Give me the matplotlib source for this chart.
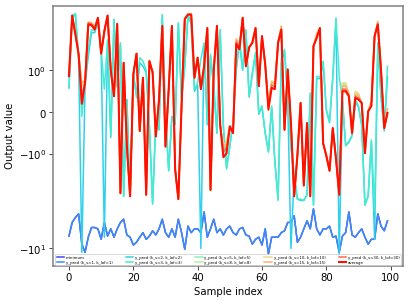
import numpy as np
import matplotlib
matplotlib.use("Agg")
import matplotlib.pyplot as plt

# read values (approximate)
average = [0.86, 3.8, 2.4, 1.48, 0.2, 0.7, 3.07, 3.0, 2.7, 3.6,
           1.5, 2.6, 3.8, 1.0, 0.38, 3.1, -2.6, 1.2, -0.8, -2.8,
           0.9, 1.5, -0.45, 0.82, -2.7, 1.25, 0.95, -0.58, 0.3, 2.95,
           -0.82, 0.55, 2.95, -1.44, -3.0, 0.15, 3.5, 3.9, 3.9, 0.82,
           1.36, 0.55, 1.1, 2.8, -2.4, 1.0, 2.95, -0.3, -1.08, -0.98,
           -0.34, -0.5, 1.9, 1.67, 3.6, 1.1, 1.75, 1.96, 2.8, 0.62,
           2.3, 1.15, 0.06, 0.58, 0.55, 1.96, 2.7, -0.42, 1.02, -0.26,
           -2.8, -1.04, 0.22, -2.15, -0.26, -2.8, 1.8, 2.2, 2.8, -0.74,
           -1.04, -1.5, -0.38, -1.12, -2.7, 0.5, 0.5, 0.38, -0.5, 0.34,
           0.3, 0.22, -0.98, 0.02, 0.15, 2.3, 3.07, 1.0, -0.38, -0.02]

y_k1 = [-7.4, -5.3, -4.7, -4.3, -9.0, -11.0, -7.6, -6.0, -6.0, -6.2,
        -8.0, -5.3, -7.4, -6.2, -7.6, -6.2, -5.3, -4.9, -7.2, -7.6,
        -9.2, -8.6, -7.6, -6.8, -8.0, -7.4, -6.5, -7.2, -6.2, -4.9,
        -6.8, -7.6, -6.2, -7.6, -4.9, -6.8, -10.2, -5.8, -6.8, -6.2,
        -6.2, -6.8, -4.1, -7.6, -6.2, -4.9, -6.8, -6.2, -7.2, -6.2,
        -5.8, -6.8, -7.2, -6.2, -6.0, -7.2, -7.4, -9.0, -8.0, -7.6,
        -9.2, -6.2, -11.5, -7.6, -7.6, -7.6, -6.8, -6.5, -5.3, -5.3,
        -4.5, -8.6, -7.6, -6.2, -5.1, -6.2, -3.8, -6.2, -7.2, -6.2,
        -6.2, -5.8, -7.6, -7.4, -11.0, -7.4, -6.8, -4.1, -7.2, -7.6,
        -6.8, -6.2, -7.6, -9.0, -8.0, -8.0, -4.3, -5.8, -6.5, -5.1]

y_k3 = [0.58, 3.8, 4.0, 1.4, -0.1, 0.7, 1.67, 2.7, 2.6, 3.3,
        1.67, 0.55, 2.1, -0.55, 3.5, 0.62, 1.96, -2.8, 0.3, -2.8,
        0.95, 0.34, 1.36, 1.25, 1.0, -0.34, -3.4, -0.18, -0.42, 3.9,
        -0.02, -1.5, -0.1, -0.26, 3.2, 0.3, 1.1, 3.9, 3.2, 0.55,
        0.7, 1.3, 1.96, -0.26, 1.48, 0.62, -0.5, 2.7, -0.34, -1.44,
        -0.82, -0.22, 1.1, 2.1, 1.02, 2.7, 0.38, 0.95, 1.55, -0.02,
        0.15, -0.5, -0.94, 0.15, -1.2, -3.1, 1.3, 1.67, 0.3, -0.88,
        -1.6, -3.0, -3.0, -3.1, -2.7, 0.46, -3.5, 0.86, 0.82, 1.25,
        0.06, -0.22, 0.86, 3.6, 0.86, 0.3, -0.78, -0.7, -0.55, 0.3,
        0.15, -0.3, -3.5, -2.8, -0.66, -4.0, 1.96, 0.38, -0.42, 1.1]

y_k2 = [0.58, 3.6, 3.9, 1.3, -11.0, 0.65, 1.4, 2.5, 2.5, 3.2,
        1.6, -7.6, 2.0, -0.6, 3.4, 0.6, 1.9, -2.8, 0.3, -2.8,
        0.9, 0.4, 1.2, 1.1, 0.95, -0.34, -3.3, -0.2, -0.42, 3.8,
        -0.05, -1.5, -0.1, -0.3, 3.1, 0.3, 1.1, 3.8, 3.1, 0.5,
        0.65, -10.0, 1.9, -0.3, 1.4, 0.6, -0.5, 2.6, -0.36, -1.4,
        -0.8, -0.25, 1.0, 2.0, 1.0, 2.6, 0.36, 0.9, 1.5, -0.05,
        0.12, -0.5, -0.95, 0.12, -1.2, -3.0, 1.2, 1.6, 0.28, -10.0,
        -1.7, -3.0, -3.1, -3.1, -2.7, 0.42, -3.4, 0.8, 0.8, 1.2,
        0.05, -0.25, 0.8, 3.4, -12.0, 0.28, -0.8, -0.72, -0.56, 0.25,
        0.12, -0.32, -3.4, -2.8, -0.7, -8.0, 1.9, 0.36, -0.45, 0.85]

# y_pred for larger k follow the average closely; overrides where they show
k_labels = ["y_pred (k_s=1, k_lof=1)", "y_pred (k_s=2, k_lof=2)",
            "y_pred (k_s=3, k_lof=3)", "y_pred (k_s=5, k_lof=5)",
            "y_pred (k_s=8, k_lof=8)", "y_pred (k_s=10, k_lof=10)",
            "y_pred (k_s=15, k_lof=15)", "y_pred (k_s=30, k_lof=30)"]

diff_k5 = {4: 0.65, 5: 0.72, 6: 3.1, 7: 3.1, 8: 2.8, 48: -0.85, 49: -0.75,
           52: 2.0, 53: 1.75, 62: 0.18, 63: 0.7, 64: 0.65, 85: 0.65,
           86: 0.65, 87: 0.42, 89: 0.45, 90: 0.4, 94: 0.25}
diff_k8 = {4: 0.6, 5: 0.75, 6: 3.15, 7: 3.15, 8: 2.85, 48: -0.82, 49: -0.72,
           52: 2.05, 53: 1.78, 62: 0.2, 63: 0.72, 64: 0.68, 85: 0.68,
           86: 0.68, 87: 0.44, 89: 0.48, 90: 0.42, 94: 0.28}
diff_k10 = {4: 0.62, 5: 0.78, 6: 3.2, 7: 3.2, 8: 2.9, 48: -0.8, 49: -0.7,
            52: 2.1, 53: 1.8, 62: 0.22, 63: 0.75, 64: 0.7, 66: 2.9,
            77: 2.4, 85: 0.7, 86: 0.7, 87: 0.45, 89: 0.5, 90: 0.45,
            94: 0.3, 96: 3.2, 99: 0.06}
diff_k15 = {4: 0.7, 5: 0.75, 6: 3.25, 7: 3.2, 8: 2.9, 48: -0.85, 49: -0.75,
            52: 2.15, 53: 1.85, 62: 0.2, 63: 0.7, 64: 0.68, 66: 2.95,
            77: 2.45, 85: 0.62, 86: 0.62, 87: 0.45, 89: 0.42, 90: 0.4,
            94: 0.25, 96: 3.3, 99: 0.08}
diff_k30 = {4: 0.4, 5: 0.72, 6: 3.15, 7: 3.1, 8: 2.8, 48: -0.95, 49: -0.85,
            52: 2.0, 53: 1.75, 62: 0.12, 63: 0.65, 64: 0.6, 85: 0.55,
            86: 0.55, 87: 0.4, 89: 0.38, 90: 0.34}

colors = ["#3d8bf0", "#2fd0ec", "#45ecd0", "#8cf0b4", "#b4f0a0",
          "#f0d890", "#ffae6e", "#ff6a4a"]


def with_overrides(base, over):
    vals = list(base)
    for k, v in over.items():
        vals[k] = v
    return vals


series = [y_k1, y_k2, y_k3,
          with_overrides(average, diff_k5), with_overrides(average, diff_k8),
          with_overrides(average, diff_k10), with_overrides(average, diff_k15),
          with_overrides(average, diff_k30)]
minimum = list(y_k1)
x = np.arange(len(average))

plt.rcParams['font.size'] = 11.4
plt.rcParams['xtick.major.size'] = 4
plt.rcParams['ytick.major.size'] = 4

fig, ax = plt.subplots(figsize=(6.4, 4.77), dpi=64.25)
fig.subplots_adjust(left=0.129, right=0.981, top=0.98, bottom=0.131)

ax.plot(x, minimum, color="#4444ff", lw=1.7, label="minimum")
for vals, c, lab in zip(series, colors, k_labels):
    ax.plot(x, vals, color=c, lw=1.7, label=lab)
ax.plot(x, average, color="#ff1000", lw=2.3, label="average")

ax.set_yscale("symlog", linthresh=1, linscale=0.4)
ax.set_ylim(-15.3, 4.84)
ax.set_xlabel("Sample index")
ax.set_ylabel("Output value")
for s in ax.spines.values():
    s.set_color("#808080")
    s.set_linewidth(1.7)

ax.legend(loc="lower left", bbox_to_anchor=(0.005, 0.0, 0.99, 1.0),
          mode="expand", ncol=5, fontsize=4.4, borderaxespad=0.15,
          handlelength=1.9, handletextpad=0.5, labelspacing=0.25,
          borderpad=0.3, columnspacing=0.5)

fig.savefig("out.png", dpi=64.25)
